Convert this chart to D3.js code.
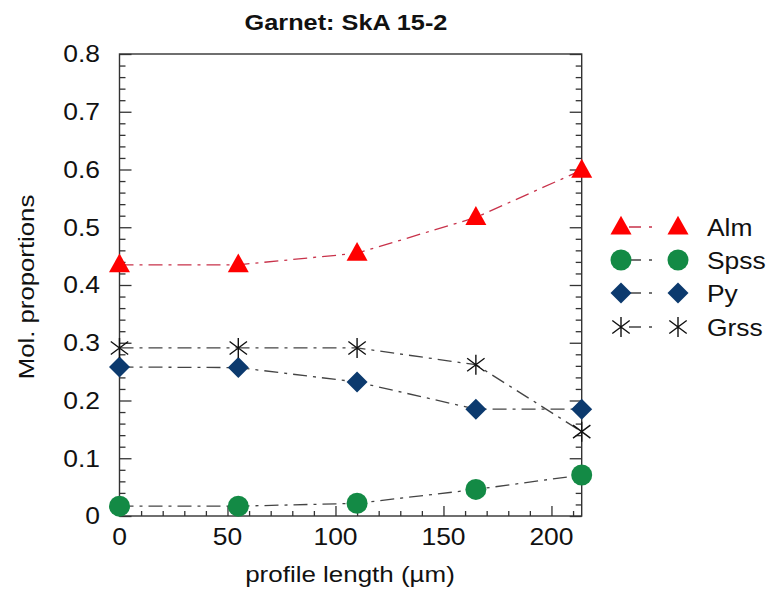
<!DOCTYPE html>
<html><head><meta charset="utf-8">
<script src="https://cdn.jsdelivr.net/npm/d3@7"></script>
<style>body{margin:0;background:#fff;} text{font-family:Arial,"Liberation Sans",sans-serif;}</style>
</head><body>
<svg id="chart" width="769" height="595"></svg>
<script>
const positions = [0, 55, 110, 165, 214];
const alm  = [0.435, 0.435, 0.455, 0.517, 0.599];
const spss = [0.017, 0.017, 0.022, 0.046, 0.071];
const py   = [0.258, 0.257, 0.232, 0.185, 0.185];
const grss = [0.291, 0.291, 0.291, 0.262, 0.146];
const seriesNames = ["Alm", "Spss", "Py", "Grss"];
const xTickValues = [0, 50, 100, 150, 200];
const yTickValues = [0, 0.1, 0.2, 0.3, 0.4, 0.5, 0.6, 0.7, 0.8];

const series = [
  {name: "Alm",  values: alm,  shape: "triangle", fill: "#ff0000", line: "#c8324a"},
  {name: "Spss", values: spss, shape: "circle",   fill: "#138a45", line: "#444"},
  {name: "Py",   values: py,   shape: "diamond",  fill: "#0c3a6e", line: "#444"},
  {name: "Grss", values: grss, shape: "asterisk", fill: "#111",    line: "#444"}
];

const svg = d3.select("#chart");
const L = 119.5, R = 581.7, T = 54, B = 516;
const x = d3.scaleLinear().domain([0, 214]).range([L, R]);
const y = d3.scaleLinear().domain([0, 0.8]).range([B, T]);
const axisColor = "#333";
const SX = 1.15;

function label(parent, tx, ty, str, size, anchor, opts = {}) {
  const rot = opts.rotate ? ` rotate(${opts.rotate})` : "";
  const t = parent.append("text")
    .attr("transform", `translate(${tx},${ty})${rot} scale(${opts.sx || SX},1)`)
    .attr("text-anchor", anchor).attr("font-size", size).attr("fill", "#111")
    .text(str);
  if (opts.bold) t.attr("font-weight", "bold");
  if (opts.dy) t.attr("dy", opts.dy);
  return t;
}

// frame
svg.append("rect").attr("x", L).attr("y", T).attr("width", R - L).attr("height", B - T)
  .attr("fill", "none").attr("stroke", axisColor).attr("stroke-width", 1.4);

function styleAxis(g) {
  g.select(".domain").remove();
  g.selectAll("line").attr("stroke", axisColor).attr("stroke-width", 1.3);
}

// Bottom axis: major + minor inward ticks
const xMinor = d3.range(0, 215, 10).filter(v => v % 50 !== 0);
svg.append("g").attr("transform", `translate(0,${B})`)
  .call(d3.axisBottom(x).tickValues(xMinor).tickSize(-5).tickFormat(""))
  .call(styleAxis);
svg.append("g").attr("transform", `translate(0,${B})`)
  .call(d3.axisBottom(x).tickValues(xTickValues).tickSize(-10).tickFormat(""))
  .call(styleAxis);
const xl = svg.append("g");
xTickValues.forEach(v => label(xl, x(v), 545, d3.format("d")(v), 23, "middle"));

// Left axis
const yMinor = d3.range(0, 0.801, 0.02).filter(v => Math.abs(Math.round(v * 10) - v * 10) > 1e-6);
svg.append("g").attr("transform", `translate(${L},0)`)
  .call(d3.axisLeft(y).tickValues(yMinor).tickSize(-6).tickFormat(""))
  .call(styleAxis);
svg.append("g").attr("transform", `translate(${L},0)`)
  .call(d3.axisLeft(y).tickValues(yTickValues).tickSize(-12).tickFormat(""))
  .call(styleAxis);
const yl = svg.append("g");
yTickValues.forEach(v => label(yl, 100, y(v), v === 0 ? "0" : d3.format(".1f")(v), 23, "end", {dy: "0.36em"}));

// Right axis (ticks inward)
svg.append("g").attr("transform", `translate(${R},0)`)
  .call(d3.axisRight(y).tickValues(yMinor).tickSize(-6).tickFormat(""))
  .call(styleAxis);
svg.append("g").attr("transform", `translate(${R},0)`)
  .call(d3.axisRight(y).tickValues(yTickValues).tickSize(-12).tickFormat(""))
  .call(styleAxis);

// Title and labels
label(svg, 346, 30, "Garnet: SkA 15-2", 22, "middle", {bold: true});
label(svg, 350, 582, "profile length (\u00b5m)", 22, "middle", {sx: 1.18});
label(svg, 34, 287, "Mol. proportions", 22, "middle", {rotate: -90, sx: 1.17});

const dash = "14,6,3,6";

function drawMarker(g, shape, cx, cy, fill, s) {
  if (shape === "triangle") {
    const h = s * 0.9;
    g.append("path").attr("d", `M${cx},${cy - h * 0.6}L${cx + s / 2},${cy + h * 0.4}L${cx - s / 2},${cy + h * 0.4}Z`).attr("fill", fill);
  } else if (shape === "circle") {
    g.append("circle").attr("cx", cx).attr("cy", cy).attr("r", s / 2).attr("fill", fill);
  } else if (shape === "diamond") {
    const r = s / 2;
    g.append("path").attr("d", `M${cx},${cy - r}L${cx + r},${cy}L${cx},${cy + r}L${cx - r},${cy}Z`).attr("fill", fill);
  } else {
    const r = s / 2;
    const a = r * 0.87, b = r * 0.5;
    g.append("path").attr("d",
      `M${cx},${cy - r}L${cx},${cy + r}M${cx - a},${cy - b * 1.3}L${cx + a},${cy + b * 1.3}M${cx - a},${cy + b * 1.3}L${cx + a},${cy - b * 1.3}`)
      .attr("stroke", fill).attr("stroke-width", 1.4).attr("fill", "none");
  }
}

const line = d3.line().x((d, i) => x(positions[i])).y(d => y(d));
const plot = svg.append("g");
series.forEach(s => {
  plot.append("path").datum(s.values).attr("d", line)
    .attr("fill", "none").attr("stroke", s.line).attr("stroke-width", 1.3).attr("stroke-dasharray", dash);
});
series.forEach(s => {
  s.values.forEach((v, i) => drawMarker(plot, s.shape, x(positions[i]), y(v), s.fill, s.shape === "asterisk" ? 20 : 21));
});

// Legend
const legendY = [227, 260, 293, 327];
series.forEach((s, k) => {
  const g = svg.append("g");
  const ly = legendY[k];
  g.append("line").attr("x1", 621).attr("x2", 678).attr("y1", ly).attr("y2", ly)
    .attr("stroke", s.line).attr("stroke-width", 1.3).attr("stroke-dasharray", "0,8,12,8,3,50");
  drawMarker(g, s.shape, 621, ly, s.fill, s.shape === "asterisk" ? 20 : 21);
  drawMarker(g, s.shape, 678, ly, s.fill, s.shape === "asterisk" ? 20 : 21);
  label(g, 707, ly, seriesNames[k], 24, "start", {dy: "0.36em", sx: 1.1});
});
</script>
</body></html>
